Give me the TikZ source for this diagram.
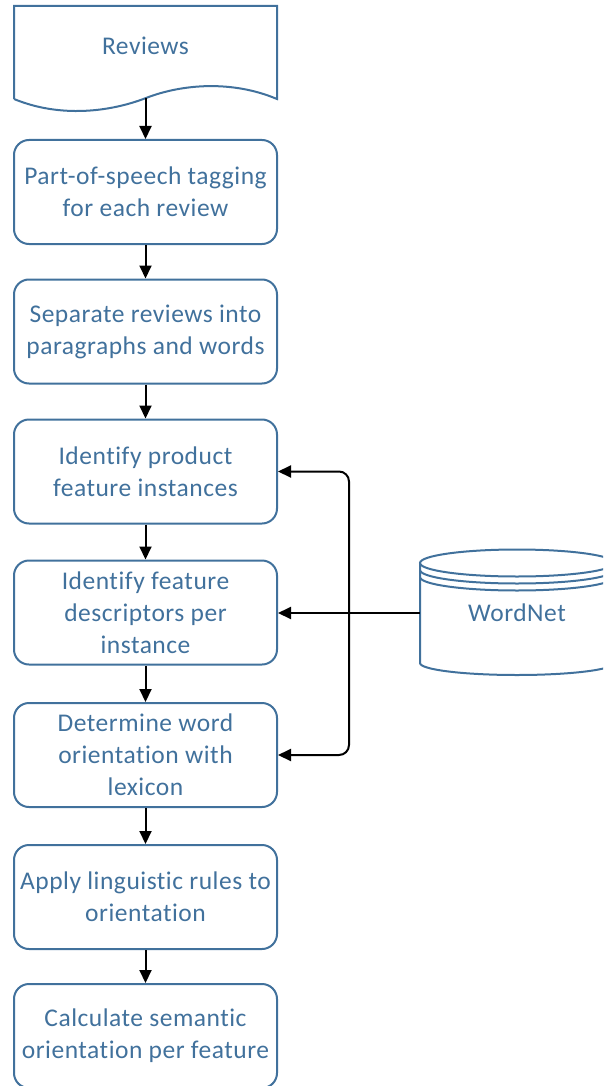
\documentclass[tikz,border=0pt]{standalone}
\usepackage{fontspec}
\setmainfont{Carlito}[Ligatures=NoCommon, LetterSpace=2]
\usetikzlibrary{arrows.meta}
\definecolor{flowblue}{RGB}{65,113,156}
\begin{document}
\begin{tikzpicture}[x=1pt,y=-1pt,
  boxtext/.style={text=flowblue, align=center, inner sep=0pt,
    font=\fontsize{25.5}{32}\selectfont},
  stepbox/.style={boxtext, draw=flowblue, line width=2pt, rounded corners=15pt,
    minimum width=263pt, minimum height=104pt},
  outline/.style={draw=flowblue, line width=2pt},
  flow/.style={line width=2pt, -{Triangle[length=13pt,width=12pt]}}]
\useasboundingbox (0,0) rectangle (603,1086);
\clip (0,0) rectangle (603,1086);

% document shape for the input reviews
\draw[outline, line join=miter] (14,99) -- (14,6) -- (277,6) -- (277,99)
  .. controls (232,80) and (182,84) .. (146,98)
  .. controls (110,112) and (60,118) .. (14,99);
\node[boxtext] (reviews) at (145.5,46) {Reviews};
\coordinate (docbot) at (145.5,98);

% processing steps
\node[stepbox] (s1) at (145.5,192)  {Part-of-speech tagging\\for each review};
\node[stepbox] (s2) at (145.5,331.5) {Separate reviews into\\paragraphs and words};
\node[stepbox] (s3) at (145.5,471.5) {Identify product\\feature instances};
\node[stepbox] (s4) at (145.5,612.5) {Identify feature\\descriptors per\\instance};
\node[stepbox] (s5) at (145.5,755)  {Determine word\\orientation with\\lexicon};
\node[stepbox] (s6) at (145.5,897)  {Apply linguistic rules to\\orientation};
\node[stepbox] (s7) at (145.5,1036) {Calculate semantic\\orientation per feature};

% WordNet database cylinder
\draw[outline] (420,563) -- (420,663) arc[start angle=180, end angle=0, x radius=97, y radius=12] -- (614,563);
\draw[outline] (517,563) ellipse [x radius=97, y radius=13.5];
\draw[outline] (420,570) arc[start angle=180, end angle=0, x radius=97, y radius=13.5];
\draw[outline] (420,577) arc[start angle=180, end angle=0, x radius=97, y radius=13.5];
\node[boxtext, minimum width=194pt, minimum height=100pt] (wordnet) at (517,613) {WordNet};

% connectors
\draw[flow] (docbot) -- (s1.north);
\draw[flow] (s1.south) -- (s2.north);
\draw[flow] (s2.south) -- (s3.north);
\draw[flow] (s3.south) -- (s4.north);
\draw[flow] (s4.south) -- (s5.north);
\draw[flow] (s5.south) -- (s6.north);
\draw[flow] (s6.south) -- (s7.north);

\coordinate (bend) at (349,613);
\draw[flow] (wordnet.west |- bend) -- (s4.east |- bend);
\draw[flow, rounded corners=10pt] (bend) |- (s3.east);
\draw[flow, rounded corners=10pt] (bend) |- (s5.east);
\end{tikzpicture}
\end{document}
